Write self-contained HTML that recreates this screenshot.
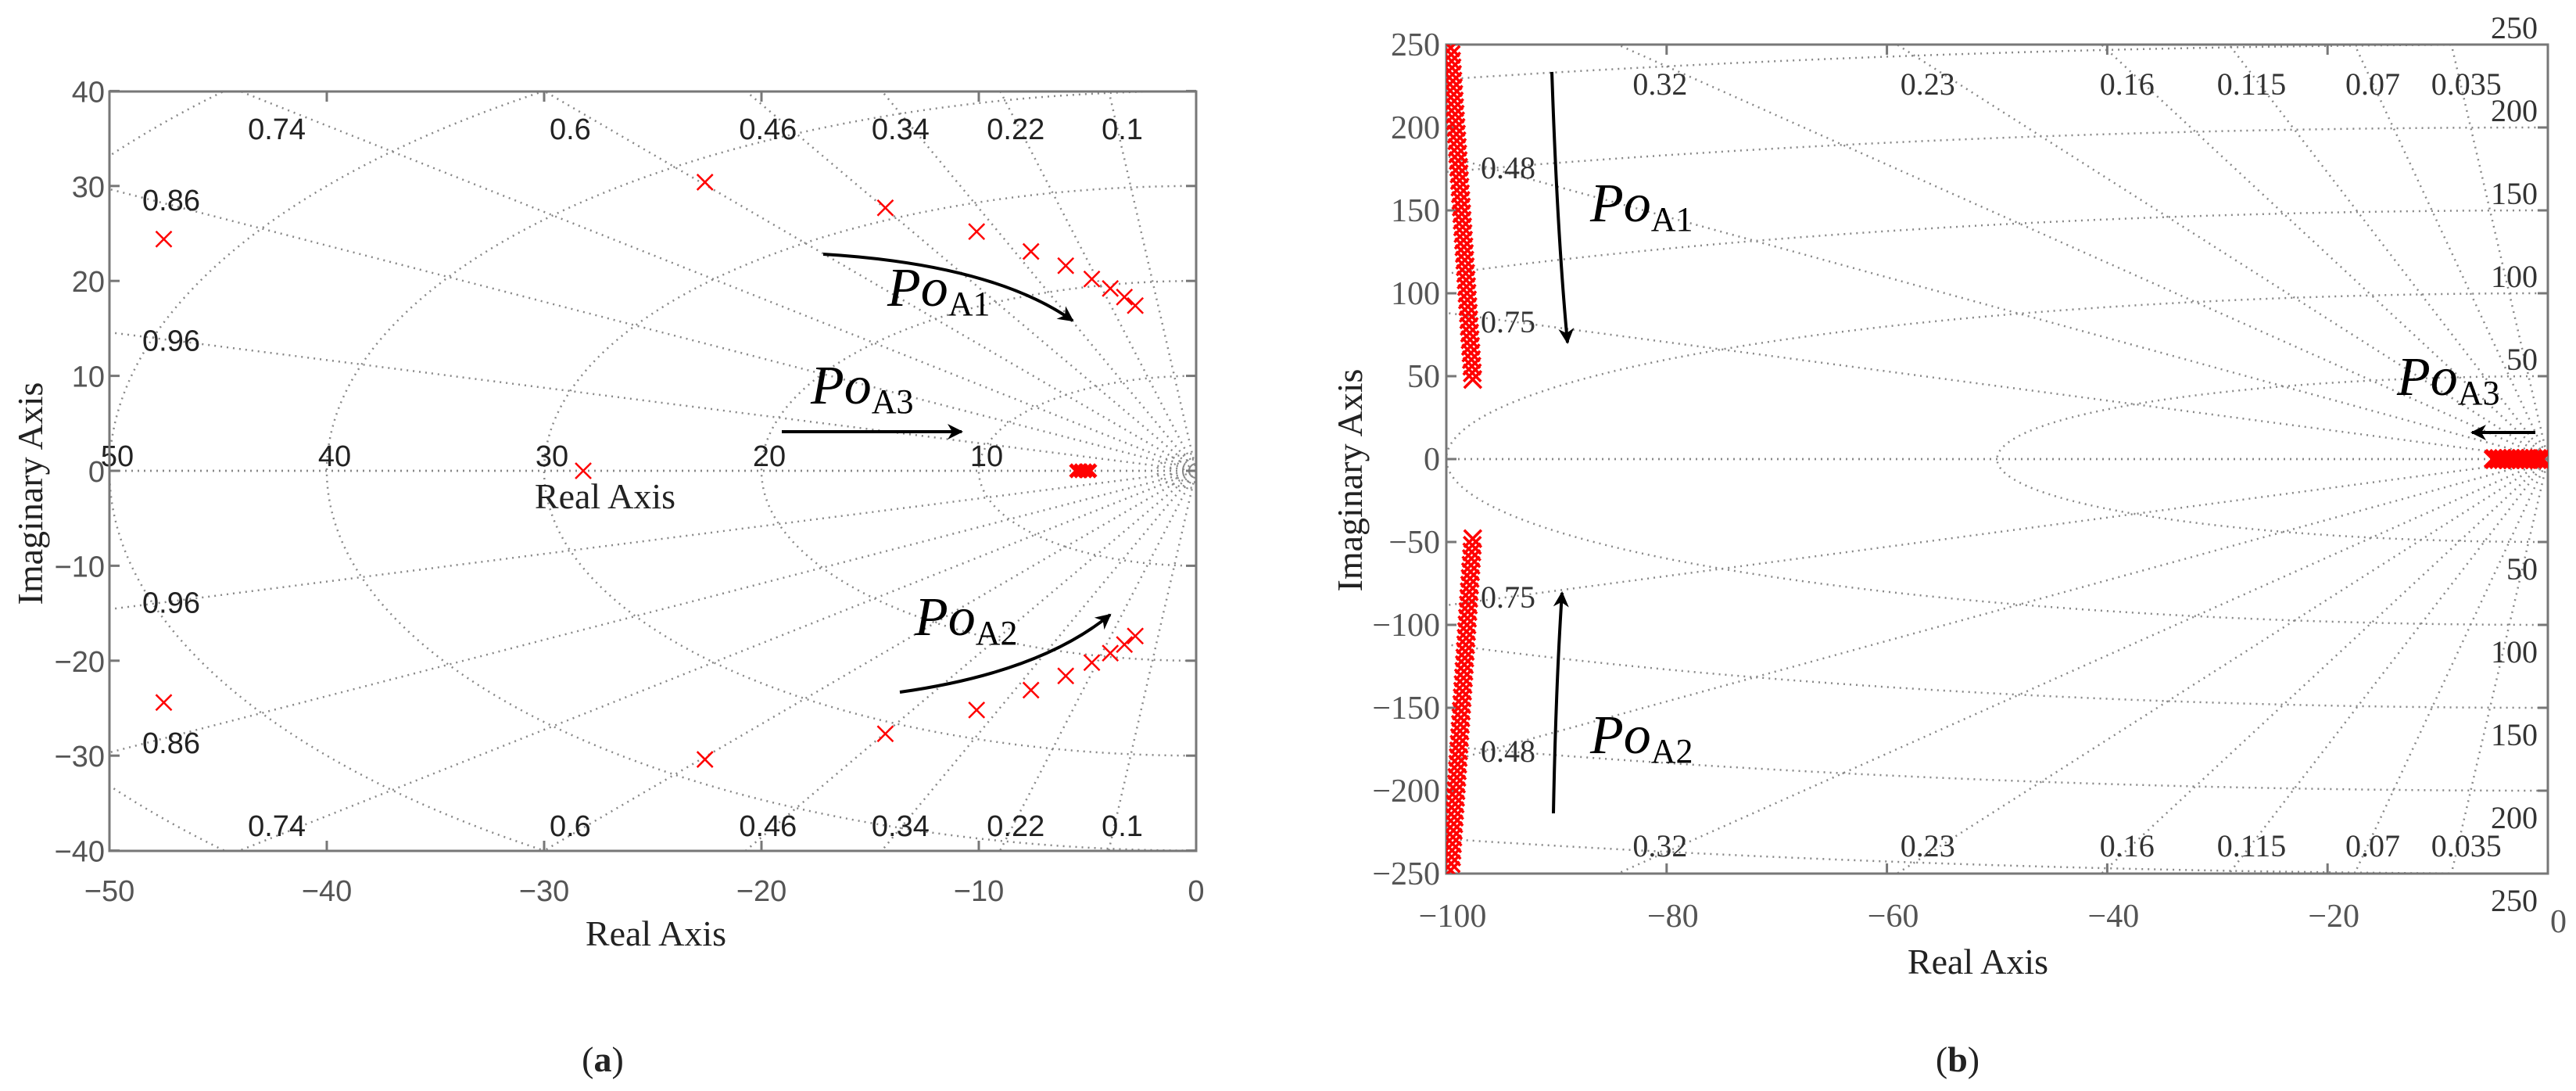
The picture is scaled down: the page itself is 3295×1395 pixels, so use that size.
<!DOCTYPE html>
<html><head><meta charset="utf-8"><style>
html,body{margin:0;padding:0;background:#fff;width:3295px;height:1395px;overflow:hidden;}
svg{display:block;}
.tk{font-family:"Liberation Sans",sans-serif;font-size:38px;fill:#555;}
.gl{font-family:"Liberation Sans",sans-serif;font-size:38px;fill:#222;}
.tks{font-family:"Liberation Serif",serif;font-size:42px;fill:#555;}
.gls{font-family:"Liberation Serif",serif;font-size:40px;fill:#333;}
.ttl{font-family:"Liberation Serif",serif;font-size:46px;fill:#222;}
.po{font-family:"Liberation Serif",serif;font-style:italic;font-size:70px;fill:#000;}
.sub{font-family:"Liberation Serif",serif;font-size:44px;fill:#000;font-style:normal;}
.grid{fill:none;stroke:#888;stroke-width:2.5;stroke-dasharray:2 6;}
</style></head><body>
<svg id="svg" width="3295" height="1395" viewBox="0 0 3295 1395" xmlns="http://www.w3.org/2000/svg">
<defs>
<clipPath id="clipA"><rect x="140" y="117" width="1390" height="971"/></clipPath>
<clipPath id="clipB"><rect x="1850" y="57" width="1409" height="1060"/></clipPath>
<marker id="ah" viewBox="0 0 10 10" refX="9" refY="5" markerWidth="5" markerHeight="5" orient="auto"><path d="M0,0 L10,5 L0,10 L3,5 z" fill="#000"/></marker>
</defs>
<g id="panelA"></g>
<g id="panelB"></g>
</svg>
<script>
// ---------- Panel (a) data ----------
const aXTicks = [-50,-40,-30,-20,-10,0];
const aYTicks = [40,30,20,10,0,-10,-20,-30,-40];
const aZetas = [0.1,0.22,0.34,0.46,0.6,0.74,0.86,0.96];
const aFreqs = [10,20,30,40,50,60];
const aSmallCircles = [0.6,1.2,1.8];
const aFreqLabels = ["50","40","30","20","10"];
const aFreqLabelVals = [-50,-40,-30,-20,-10];
const aTopZetaLabels = ["0.74","0.6","0.46","0.34","0.22","0.1"];
const aTopZetaX = [-42.3,-28.8,-19.7,-13.6,-8.3,-3.4];
const aLeftZetaLabels = ["0.86","0.96"];
const aLeftZetaY = [28.6,13.8];
const aPolesRe = [-47.5,-22.6,-14.3,-10.1,-7.6,-6.0,-4.8,-3.95,-3.3,-2.8];
const aPolesIm = [24.4,30.4,27.7,25.2,23.1,21.6,20.2,19.2,18.3,17.4];
const aRealPolesRe = [-28.2,-5.5,-5.3,-5.1,-4.9];

// ---------- Panel (b) data ----------
const bXTicks = [-100,-80,-60,-40,-20];
const bYTicks = [250,200,150,100,50,0,-50,-100,-150,-200,-250];
const bZetas = [0.035,0.07,0.115,0.16,0.23,0.32,0.48,0.75];
const bFreqs = [50,100,150,200,250];
const bTopZetaLabels = ["0.32","0.23","0.16","0.115","0.07","0.035"];
const bTopZetaX = [-80.6,-56.3,-38.2,-26.9,-15.9,-7.4];
const bLeftZetaLabels = ["0.48","0.75"];
const bLeftZetaY = [176,83];
const bRightFreqLabels = ["250","200","150","100","50"];
const bRightFreqVals = [250,200,150,100,50];
const bUpperIm = [248,244,240,236,232,228,224,220,216,212,208,204,200,196,192,188,184,180,176,172,168,164,160,156,152,148,144,140,136,132,128,124,120,116,112,108,104,100,96,92,88,84,80,76,72,68,64,60,56,52,48];
const bUpperRe = [-99.6,-99.56,-99.52,-99.48,-99.44,-99.4,-99.36,-99.32,-99.28,-99.24,-99.2,-99.16,-99.12,-99.08,-99.04,-99.0,-98.96,-98.92,-98.88,-98.84,-98.8,-98.76,-98.72,-98.68,-98.64,-98.6,-98.56,-98.52,-98.48,-98.44,-98.4,-98.36,-98.32,-98.28,-98.24,-98.2,-98.16,-98.12,-98.08,-98.04,-98.0,-97.96,-97.92,-97.88,-97.84,-97.8,-97.76,-97.72,-97.68,-97.64,-97.6];
const bLowerIm = [-248,-244,-240,-236,-232,-228,-224,-220,-216,-212,-208,-204,-200,-196,-192,-188,-184,-180,-176,-172,-168,-164,-160,-156,-152,-148,-144,-140,-136,-132,-128,-124,-120,-116,-112,-108,-104,-100,-96,-92,-88,-84,-80,-76,-72,-68,-64,-60,-56,-52,-48];
const bLowerRe = [-99.6,-99.56,-99.52,-99.48,-99.44,-99.4,-99.36,-99.32,-99.28,-99.24,-99.2,-99.16,-99.12,-99.08,-99.04,-99.0,-98.96,-98.92,-98.88,-98.84,-98.8,-98.76,-98.72,-98.68,-98.64,-98.6,-98.56,-98.52,-98.48,-98.44,-98.4,-98.36,-98.32,-98.28,-98.24,-98.2,-98.16,-98.12,-98.08,-98.04,-98.0,-97.96,-97.92,-97.88,-97.84,-97.8,-97.76,-97.72,-97.68,-97.64,-97.6];
const bRealRe = [-4.9,-4.5,-4.1,-3.7,-3.3,-2.9,-2.5,-2.1,-1.7,-1.3,-0.9,-0.6];

const NS='http://www.w3.org/2000/svg';
function mk(parent,tag,attrs,text){const e=document.createElementNS(NS,tag);for(const k in attrs)e.setAttribute(k,attrs[k]);if(text!==undefined)e.textContent=text;parent.appendChild(e);return e;}

const ax = x => 140 + (x+50)*27.8;
const ay = y => 602 - y*12.14;
const bx = x => 1850 + (x+100)*14.09;
const by = y => 587 - y*2.12;

function cross(g,cx,cy,h,sw){
  const p = mk(g,'path',{d:`M${cx-h},${cy-h}L${cx+h},${cy+h}M${cx-h},${cy+h}L${cx+h},${cy-h}`,stroke:'#ff0000','stroke-width':sw,fill:'none'});
  
  
  return p;
}

// ================= Panel A =================
const A = document.getElementById('panelA');
const gA = mk(A,'g',{'clip-path':'url(#clipA)'});


aFreqs.concat(aSmallCircles).forEach(r=>{
  const e=mk(gA,'ellipse',{cx:ax(0),cy:ay(0),rx:r*27.8,ry:r*12.14,class:'grid'});
  
  
});
aZetas.concat([1]).forEach(z=>{
  const s=Math.sqrt(1-z*z);
  [1,-1].forEach(sg=>{
    const l=mk(gA,'line',{x1:ax(0),y1:ay(0),x2:ax(-z*100),y2:ay(sg*s*100),class:'grid'});
    
    
  });
});
aTopZetaLabels.forEach((t,i)=>{
  [178,1069].forEach(yy=>{
    const e=mk(A,'text',{x:ax(aTopZetaX[i]),y:yy,class:'gl','text-anchor':'middle'},t);
    
    
  });
});
aLeftZetaLabels.forEach((t,i)=>{
  [1,-1].forEach(sg=>{
    const e=mk(A,'text',{x:219,y:ay(sg*aLeftZetaY[i])+14,class:'gl','text-anchor':'middle'},t);
    
    
  });
});
aFreqLabels.forEach((t,i)=>{
  const e=mk(A,'text',{x:ax(aFreqLabelVals[i])+10,y:596,class:'gl','text-anchor':'middle'},t);
  
  
});
{const e=mk(A,'text',{x:774,y:650,class:'ttl','text-anchor':'middle'},'Real Axis');

}
{const f=mk(A,'rect',{x:140,y:117,width:1390,height:971,fill:'none',stroke:'#777','stroke-width':3});

}
aXTicks.forEach(v=>{
  mk(A,'line',{x1:ax(v),y1:1088,x2:ax(v),y2:1075,stroke:'#777','stroke-width':3});
  mk(A,'line',{x1:ax(v),y1:117,x2:ax(v),y2:130,stroke:'#777','stroke-width':3});
  const e=mk(A,'text',{x:ax(v),y:1152,class:'tk','text-anchor':'middle'},v<0?'\u2212'+(-v):String(v));
  
  
});
aYTicks.forEach(v=>{
  mk(A,'line',{x1:140,y1:ay(v),x2:153,y2:ay(v),stroke:'#777','stroke-width':3});
  mk(A,'line',{x1:1530,y1:ay(v),x2:1517,y2:ay(v),stroke:'#777','stroke-width':3});
  const e=mk(A,'text',{x:134,y:ay(v)+14,class:'tk','text-anchor':'end'},v<0?'\u2212'+(-v):String(v));
  
  
});
const pA = mk(A,'g',{'clip-path':'url(#clipA)'});


aPolesRe.forEach((re,i)=>{cross(pA,ax(re),ay(aPolesIm[i]),10,2.5);cross(pA,ax(re),ay(-aPolesIm[i]),10,2.5);});
aRealPolesRe.forEach((re,i)=>cross(pA,ax(re),ay(0),i===0?10:8,i===0?2.5:5));
function arrow(parent,d,name){const p=mk(parent,'path',{d:d,stroke:'#000','stroke-width':4,fill:'none','marker-end':'url(#ah)'});}
function poLabel(parent,x,y,sub,name){const t=mk(parent,'text',{x:x,y:y,class:'po'});mk(t,'tspan',{},'Po');mk(t,'tspan',{class:'sub',dy:12},sub);}
arrow(A,'M1053,325 Q1270,338 1372,410','arrow-po-a1');
arrow(A,'M1000,552 L1230,552','arrow-po-a3');
arrow(A,'M1151,885 Q1330,860 1420,786','arrow-po-a2');
poLabel(A,1135,391,'A1','label-po-a1');
poLabel(A,1037,516,'A3','label-po-a3');
poLabel(A,1170,812,'A2','label-po-a2');
{const e=mk(A,'text',{x:839,y:1209,class:'ttl','text-anchor':'middle'},'Real Axis');}
{const e=mk(A,'text',{x:0,y:0,class:'ttl','text-anchor':'middle',transform:'translate(54,631) rotate(-90)'},'Imaginary Axis');}
{const t=mk(A,'text',{x:771,y:1370,class:'ttl','text-anchor':'middle','font-size':'72'});mk(t,'tspan',{},'(');mk(t,'tspan',{'font-weight':'bold'},'a');mk(t,'tspan',{},')');}

// ================= Panel B =================
const B = document.getElementById('panelB');
const gB = mk(B,'g',{'clip-path':'url(#clipB)'});


bFreqs.forEach(r=>{
  const e=mk(gB,'ellipse',{cx:bx(0),cy:by(0),rx:r*14.09,ry:r*2.12,class:'grid'});
  
  
});
bZetas.concat([1]).forEach(z=>{
  const s=Math.sqrt(1-z*z);
  [1,-1].forEach(sg=>{
    const l=mk(gB,'line',{x1:bx(0),y1:by(0),x2:bx(-z*1000),y2:by(sg*s*1000),class:'grid'});
    
    
  });
});
bTopZetaLabels.forEach((t,i)=>{
  [121,1095].forEach(yy=>{
    const e=mk(B,'text',{x:bx(bTopZetaX[i]),y:yy,class:'gls','text-anchor':'middle'},t);
    
    
  });
});
bLeftZetaLabels.forEach((t,i)=>{
  [1,-1].forEach(sg=>{
    const e=mk(B,'text',{x:1929,y:by(sg*bLeftZetaY[i])+14,class:'gls','text-anchor':'middle'},t);
    
    
  });
});
bRightFreqLabels.forEach((t,i)=>{
  const v=bRightFreqVals[i];
  const e1=mk(B,'text',{x:3246,y:by(v)-8,class:'gls','text-anchor':'end'},t);
  
  
  const e2=mk(B,'text',{x:3246,y:by(-v)+48,class:'gls','text-anchor':'end'},t);
  
  
});
{const f=mk(B,'rect',{x:1850,y:57,width:1409,height:1060,fill:'none',stroke:'#777','stroke-width':3});

}
bXTicks.concat([0]).forEach(v=>{
  mk(B,'line',{x1:bx(v),y1:1117,x2:bx(v),y2:1104,stroke:'#777','stroke-width':3});
  mk(B,'line',{x1:bx(v),y1:57,x2:bx(v),y2:70,stroke:'#777','stroke-width':3});
});
bXTicks.forEach(v=>{
  const e=mk(B,'text',{x:bx(v)+8,y:1185,class:'tks','text-anchor':'middle'},'\u2212'+(-v));
  
  
});
{const e=mk(B,'text',{x:3262,y:1192,class:'tks'},'0');}
bYTicks.forEach(v=>{
  mk(B,'line',{x1:1850,y1:by(v),x2:1863,y2:by(v),stroke:'#777','stroke-width':3});
  mk(B,'line',{x1:3259,y1:by(v),x2:3246,y2:by(v),stroke:'#777','stroke-width':3});
  const e=mk(B,'text',{x:1842,y:by(v)+14,class:'tks','text-anchor':'end'},v<0?'\u2212'+(-v):String(v));
  
  
});
const pB = mk(B,'g',{'clip-path':'url(#clipB)'});


bUpperRe.forEach((re,i)=>cross(pB,bx(re),by(bUpperIm[i]),11,3.5));
bLowerRe.forEach((re,i)=>cross(pB,bx(re),by(bLowerIm[i]),11,3.5));
bRealRe.forEach(re=>cross(pB,bx(re),by(0),11,6));
arrow(B,'M1985,92 Q1992,300 2005,438','arrow-po-a1-b');
arrow(B,'M1987,1040 Q1990,880 1998,758','arrow-po-a2-b');
arrow(B,'M3243,553 L3162,553','arrow-po-a3-b');
poLabel(B,2034,283,'A1','label-po-a1-b');
poLabel(B,2034,963,'A2','label-po-a2-b');
poLabel(B,3066,505,'A3','label-po-a3-b');
{const e=mk(B,'text',{x:2530,y:1245,class:'ttl','text-anchor':'middle'},'Real Axis');}
{const e=mk(B,'text',{x:0,y:0,class:'ttl','text-anchor':'middle',transform:'translate(1742,614) rotate(-90)'},'Imaginary Axis');}
{const t=mk(B,'text',{x:2504,y:1370,class:'ttl','text-anchor':'middle','font-size':'72'});mk(t,'tspan',{},'(');mk(t,'tspan',{'font-weight':'bold'},'b');mk(t,'tspan',{},')');}
</script>
</body></html>
